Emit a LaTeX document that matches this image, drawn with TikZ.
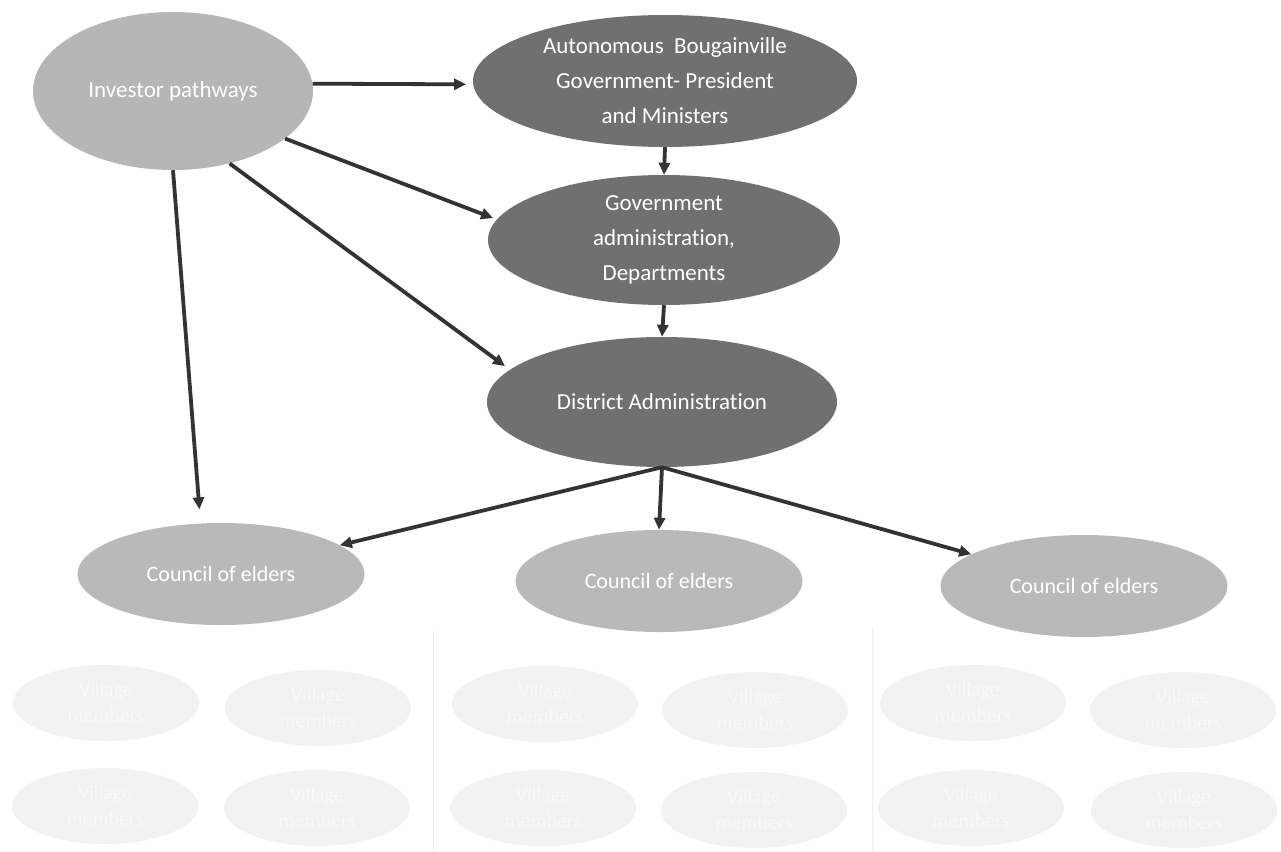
\documentclass[tikz,border=0pt]{standalone}
\usepackage{fontspec}
\setmainfont{Carlito}[Ligatures=NoCommon]
\usetikzlibrary{shapes.geometric,arrows.meta}
\definecolor{darkfill}{HTML}{707070}
\definecolor{lightfill}{HTML}{B6B6B6}
\definecolor{councilfill}{HTML}{B9B9B9}
\definecolor{villagefill}{HTML}{F2F2F2}
\definecolor{villagetext}{HTML}{F9F9F9}
\definecolor{arrowcol}{HTML}{333333}
\definecolor{sepcol}{HTML}{EDEDED}
\tikzset{
  oval/.style={ellipse, inner sep=0pt, text=white, align=center,
    font=\fontsize{23}{35}\selectfont},
  govoval/.style={oval, fill=darkfill},
  invoval/.style={oval, fill=lightfill},
  counciloval/.style={oval, fill=councilfill, font=\fontsize{22}{30}\selectfont,
    minimum width=287pt, minimum height=102pt},
  villageoval/.style={ellipse, inner sep=0pt, fill=villagefill, text=villagetext,
    align=center, font=\fontsize{20}{26}\selectfont,
    minimum width=186pt, minimum height=76pt},
  conn/.style={draw=arrowcol, line width=3.8pt,
    -{Triangle[length=12pt,width=11pt]}},
  sepline/.style={draw=sepcol, line width=1pt}
}
\begin{document}
\begin{tikzpicture}[x=1pt,y=-1pt]
\useasboundingbox[fill=white] (0,0) rectangle (1281,851);

% separators
\coordinate (s1a) at (433,628); \coordinate (s1b) at (433,851);
\coordinate (s2a) at (872,628); \coordinate (s2b) at (872,851);
\draw[sepline] (s1a) -- (s1b);
\draw[sepline] (s2a) -- (s2b);

% main nodes
\node[invoval, minimum width=280pt, minimum height=158pt] (inv) at (173,91) {Investor pathways};
\node[govoval, minimum width=384pt, minimum height=132pt] (abg) at (665,81)
  {Autonomous\ \ Bougainville\\Government- President\\and Ministers};
\node[govoval, minimum width=352pt, minimum height=130pt] (gov) at (664,240)
  {Government\\administration,\\Departments};
\node[govoval, minimum width=350pt, minimum height=130pt] (dist) at (662,402)
  {District Administration};

\node[counciloval] (c1) at (221,574) {Council of elders};
\node[counciloval] (c2) at (659,581) {Council of elders};
\node[counciloval] (c3) at (1084,586) {Council of elders};

% village nodes
\node[villageoval] (v1) at (106,703) {Village\\members};
\node[villageoval] (v2) at (318,708) {Village\\members};
\node[villageoval] (v3) at (105,806) {Village\\members};
\node[villageoval] (v4) at (317,808) {Village\\members};
\node[villageoval] (v5) at (545,704) {Village\\members};
\node[villageoval] (v6) at (755,710) {Village\\members};
\node[villageoval] (v7) at (543,808) {Village\\members};
\node[villageoval] (v8) at (754,810) {Village\\members};
\node[villageoval] (v9) at (973,703) {Village\\members};
\node[villageoval] (v10) at (1183,710) {Village\\members};
\node[villageoval] (v11) at (971,808) {Village\\members};
\node[villageoval] (v12) at (1184,810) {Village\\members};

% connectors
\draw[conn, shorten >=7pt] (inv.3) -- (abg.181);
\draw[conn, shorten >=4pt] (inv.-23) -- (gov.173);
\draw[conn, shorten >=6pt] (inv.-52) -- (dist.168);
\draw[conn, shorten >=14pt] (inv.-90) -- (c1.112);
\draw[conn] (abg.south) -- (gov.north);
\draw[conn] (gov.south) -- (dist.north);
\draw[conn] (dist.south) -- (c1);
\draw[conn] (dist.south) -- (c2.north);
\draw[conn] (dist.south) -- (c3);
\end{tikzpicture}
\end{document}
